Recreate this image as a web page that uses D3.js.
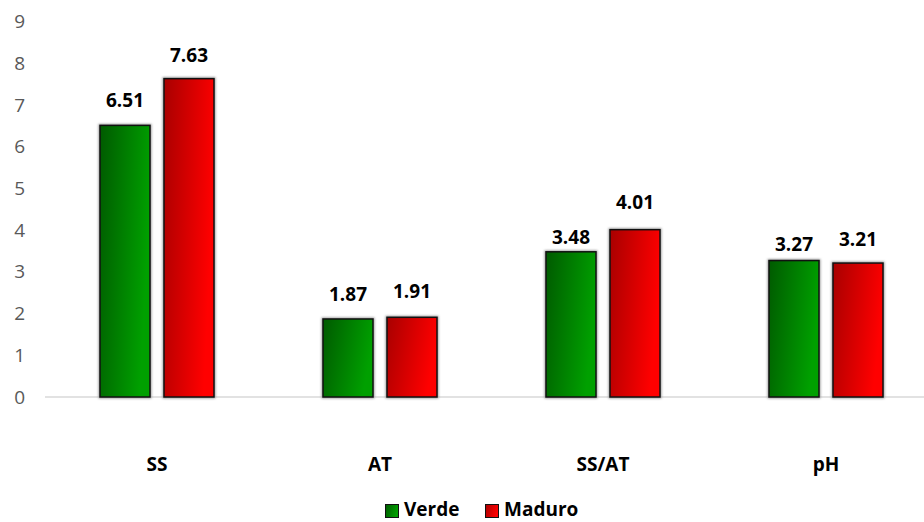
<!DOCTYPE html>
<html>
<head>
<meta charset="utf-8">
<script src="https://cdn.jsdelivr.net/npm/d3@7"></script>
<style>
  html, body { margin: 0; padding: 0; background: #fff; overflow: hidden; }
  svg { display: block; font-family: "Open Sans", sans-serif; }
</style>
</head>
<body>
<svg id="chart" width="924" height="522"></svg>
<script>
// Categories and series values
const categories = ["SS", "AT", "SS/AT", "pH"];
const seriesNames = ["Verde", "Maduro"];
const verde = [6.51, 1.87, 3.48, 3.27];
const maduro = [7.63, 1.91, 4.01, 3.21];
const yTicks = [0, 1, 2, 3, 4, 5, 6, 7, 8, 9];

const svg = d3.select("#chart");
const width = 924;

const x = d3.scaleBand().domain(categories).range([45.5, 937.5]);
// Position of the two bars inside each category band
const inner = d3.scaleBand().domain(seriesNames).range([54.5, 168.5]).paddingInner(14 / 64);
const y = d3.scaleLinear().domain([0, 9]).range([397, 21.5]);

// Diagonal gradients: dark top-left to bright bottom-right
const defs = svg.append("defs");
const grads = {
  Verde: ["#005a00", "#00a000"],
  Maduro: ["#a80000", "#ff0000"]
};
Object.entries(grads).forEach(([k, c]) => {
  const g = defs.append("linearGradient").attr("id", "g-" + k)
    .attr("x1", "0%").attr("y1", "0%").attr("x2", "100%").attr("y2", "30%");
  g.append("stop").attr("offset", "0%").attr("stop-color", c[0]);
  g.append("stop").attr("offset", "100%").attr("stop-color", c[1]);
});
defs.append("filter").attr("id", "soft").attr("x", "-20%").attr("y", "-20%").attr("width", "140%").attr("height", "140%")
  .append("feGaussianBlur").attr("stdDeviation", 1);

// Y axis tick labels
const yAxis = svg.append("g").attr("transform", "translate(25,0)")
  .call(d3.axisLeft(y).tickValues(yTicks).tickSize(0).tickPadding(0).tickFormat(d3.format("d")));
yAxis.select(".domain").remove();
yAxis.selectAll("text").attr("fill", "#595959").style("font-size", "19px")
  .style("font-family", "'Open Sans', sans-serif");

// Category axis line
svg.append("line").attr("x1", 45).attr("x2", width).attr("y1", y(0)).attr("y2", y(0))
  .attr("stroke", "#d9d9d9").attr("stroke-width", 1.5);

// Bars
const rows = categories.map((c, i) => ({ cat: c, vals: [{ s: "Verde", v: verde[i], i }, { s: "Maduro", v: maduro[i], i }] }));
const groups = svg.selectAll("g.grp").data(rows).join("g").attr("class", "grp")
  .attr("transform", d => `translate(${x(d.cat)},0)`);

groups.selectAll("rect.shadow").data(d => d.vals).join("rect").attr("class", "shadow")
  .attr("x", d => inner(d.s)).attr("width", inner.bandwidth())
  .attr("y", d => y(d.v)).attr("height", d => y(0) - y(d.v))
  .attr("fill", "none").attr("stroke", "#9a9a9a").attr("stroke-width", 3)
  .attr("filter", "url(#soft)");

groups.selectAll("rect.bar").data(d => d.vals).join("rect").attr("class", "bar")
  .attr("x", d => inner(d.s)).attr("width", inner.bandwidth())
  .attr("y", d => y(d.v)).attr("height", d => y(0) - y(d.v))
  .attr("fill", d => `url(#g-${d.s})`).attr("stroke", "#111").attr("stroke-width", 1.5);

// Value labels, each with its own gap above the bar
const labelGap = { Verde: [18, 18, 8, 10], Maduro: [17, 19, 21, 17] };
groups.selectAll("text.val").data(d => d.vals).join("text").attr("class", "val")
  .attr("x", d => inner(d.s) + inner.bandwidth() / 2)
  .attr("y", d => y(d.v) - labelGap[d.s][d.i])
  .attr("text-anchor", "middle").style("font-size", "19px").style("font-weight", "bold")
  .attr("fill", "#000").text(d => d.v.toFixed(2));

// Category labels
svg.selectAll("text.cat").data(categories).join("text").attr("class", "cat")
  .attr("x", d => x(d) + x.bandwidth() / 2).attr("y", 471)
  .attr("text-anchor", "middle").style("font-size", "19px").style("font-weight", "bold")
  .attr("fill", "#000").text(d => d);

// Legend
const legend = svg.append("g").attr("transform", "translate(385,501)");
const legItems = [{ s: "Verde", x: 0 }, { s: "Maduro", x: 100 }];
legItems.forEach(it => {
  const g = legend.append("g").attr("transform", `translate(${it.x},0)`);
  g.append("rect").attr("x", 0.5).attr("y", 3.5).attr("width", 13).attr("height", 13)
    .attr("fill", `url(#g-${it.s})`).attr("stroke", "#111").attr("stroke-width", 1);
  g.append("text").attr("x", 19).attr("y", 15).style("font-size", "19px").style("font-weight", "bold")
    .attr("fill", "#000").text(it.s);
});
</script>
</body>
</html>
